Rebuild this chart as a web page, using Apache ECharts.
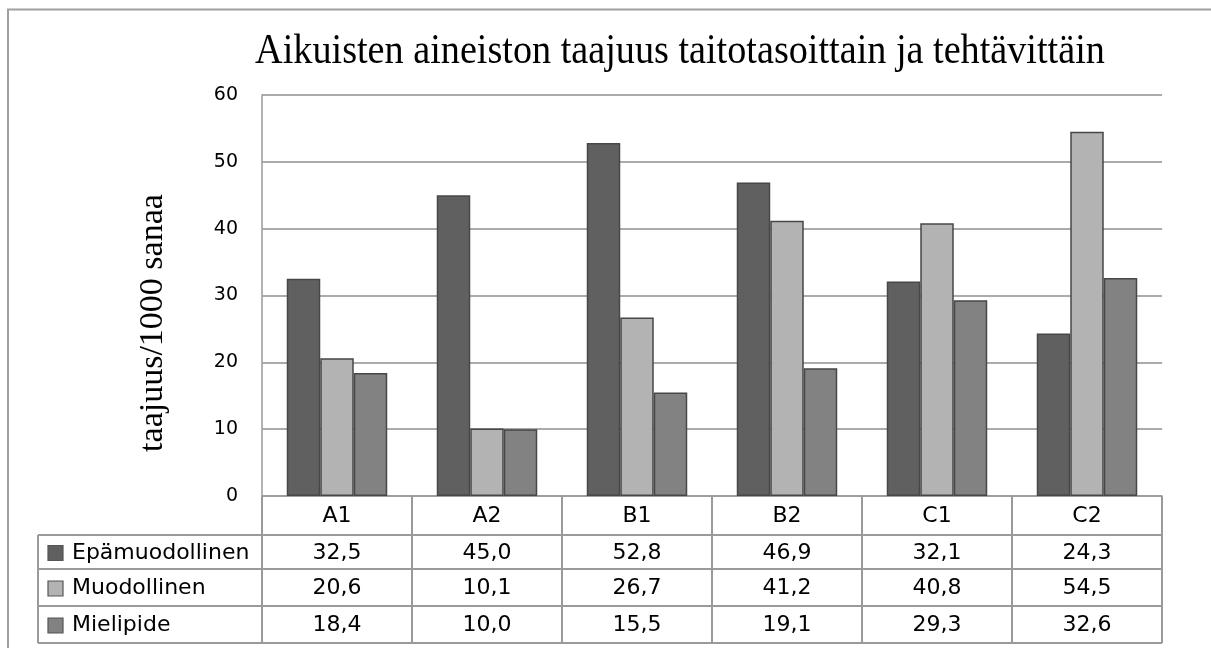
<!DOCTYPE html>
<html>
<head>
<meta charset="utf-8">
<script src="https://cdn.jsdelivr.net/npm/echarts@6/dist/echarts.min.js"></script>
<style>
html,body{margin:0;padding:0;background:#fff;}
#c{width:1211px;height:648px;}
</style>
</head>
<body>
<div id="c"></div>
<script>
const titleText = 'Aikuisten aineiston taajuus taitotasoittain ja tehtävittäin';
const yAxisTitle = 'taajuus/1000 sanaa';
const categories = ['A1', 'A2', 'B1', 'B2', 'C1', 'C2'];
const seriesNames = ['Epämuodollinen', 'Muodollinen', 'Mielipide'];
const epamuodollinen = [32.5, 45.0, 52.8, 46.9, 32.1, 24.3];
const muodollinen = [20.6, 10.1, 26.7, 41.2, 40.8, 54.5];
const mielipide = [18.4, 10.0, 15.5, 19.1, 29.3, 32.6];
const yTicks = [0, 10, 20, 30, 40, 50, 60];

const seriesValues = [epamuodollinen, muodollinen, mielipide];
const colors = ['#606060', '#b3b3b3', '#828282'];
const lineCol = '#9a9a9a';
const sansFont = 'DejaVu Sans';

const chart = echarts.init(document.getElementById('c'), null, {renderer: 'canvas'});

const option = {
  animation: false,
  backgroundColor: '#fff',
  grid: {left: 262, right: 49, top: 95, bottom: 152, containLabel: false},
  xAxis: {
    type: 'category',
    data: categories,
    boundaryGap: true,
    axisLine: {show: true, lineStyle: {color: lineCol, width: 1.5}},
    axisTick: {show: false},
    axisLabel: {show: false},
    splitLine: {show: false}
  },
  yAxis: {
    type: 'value',
    min: yTicks[0],
    max: yTicks[yTicks.length - 1],
    interval: 10,
    axisLine: {show: true, lineStyle: {color: lineCol, width: 1.5}},
    axisTick: {show: false},
    axisLabel: {fontFamily: sansFont, fontSize: 19, color: '#000', margin: 24},
    splitLine: {show: true, lineStyle: {color: '#8f8f8f', width: 1.5}}
  },
  series: seriesNames.map((n, i) => ({
    name: n,
    type: 'bar',
    data: seriesValues[i],
    barGap: '0%',
    barCategoryGap: '33%',
    itemStyle: {color: colors[i], borderColor: '#474747', borderWidth: 1.5}
  }))
};
chart.setOption(option);

function buildGraphics() {
  const els = [];
  // outer frame
  els.push({type: 'rect', shape: {x: 8, y: 9.5, width: 1400, height: 900},
    style: {fill: 'none', stroke: '#a0a0a0', lineWidth: 2}, z: 1});
  // title
  els.push({type: 'text', x: 680, y: 52, scaleX: 0.955, scaleY: 1.05,
    style: {text: titleText, font: '40px "Liberation Serif"', fill: '#000', align: 'center', verticalAlign: 'middle'}, z: 10});
  // y axis title
  els.push({type: 'text', x: 153, y: 323, rotation: Math.PI / 2,
    style: {text: yAxisTitle, font: '34px "Liberation Serif"', fill: '#000', align: 'center', verticalAlign: 'middle'}, z: 10});

  const left = chart.convertToPixel({xAxisIndex: 0}, categories[0]);
  const right = chart.convertToPixel({xAxisIndex: 0}, categories[categories.length - 1]);
  const band = (right - left) / (categories.length - 1);
  const x0 = left - band / 2;
  const xEnd = right + band / 2;
  const yTop = chart.convertToPixel({yAxisIndex: 0}, 0);
  const rowTops = [yTop, yTop + 39, yTop + 73, yTop + 110, yTop + 147];
  const tableLeft = 38;

  for (let r = 1; r < rowTops.length; r++) {
    els.push({type: 'line', shape: {x1: tableLeft, y1: rowTops[r], x2: xEnd, y2: rowTops[r]},
      style: {stroke: lineCol, lineWidth: 2}, z: 5});
  }
  for (let c = 0; c <= categories.length; c++) {
    const x = x0 + c * band;
    els.push({type: 'line', shape: {x1: x, y1: rowTops[0], x2: x, y2: rowTops[4]},
      style: {stroke: lineCol, lineWidth: 2}, z: 5});
  }
  els.push({type: 'line', shape: {x1: tableLeft, y1: rowTops[1], x2: tableLeft, y2: rowTops[4]},
    style: {stroke: lineCol, lineWidth: 2}, z: 5});

  const f = '22px "' + sansFont + '"';
  categories.forEach((cat, c) => {
    els.push({type: 'text', x: x0 + (c + 0.5) * band, y: (rowTops[0] + rowTops[1]) / 2 + 1,
      style: {text: cat, font: f, fill: '#000', align: 'center', verticalAlign: 'middle'}, z: 6});
  });
  seriesNames.forEach((n, i) => {
    const yc = (rowTops[i + 1] + rowTops[i + 2]) / 2 + 1;
    els.push({type: 'rect', shape: {x: 48, y: yc - 7.5, width: 15, height: 15},
      style: {fill: colors[i], stroke: '#555', lineWidth: 1.2}, z: 6});
    els.push({type: 'text', x: 72, y: yc,
      style: {text: n, font: f, fill: '#000', align: 'left', verticalAlign: 'middle'}, z: 6});
    seriesValues[i].forEach((v, c) => {
      els.push({type: 'text', x: x0 + (c + 0.5) * band, y: yc,
        style: {text: v.toFixed(1).replace('.', ','), font: f, fill: '#000', align: 'center', verticalAlign: 'middle'}, z: 6});
    });
  });
  chart.setOption({graphic: {elements: els}});
}
buildGraphics();
</script>
</body>
</html>
